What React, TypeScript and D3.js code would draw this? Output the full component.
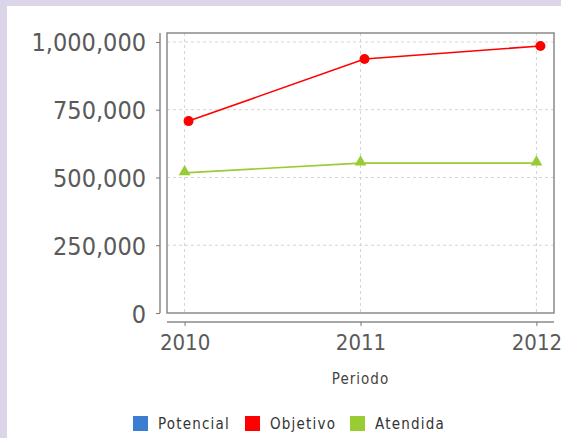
import React, { useEffect, useRef } from 'react';
import * as d3 from 'd3';

const W = 561;
const H = 438;
const margin = { top: 33, right: 7, bottom: 125, left: 167 };
const width = W - margin.left - margin.right;
const height = H - margin.top - margin.bottom;

const periods = ['2010', '2011', '2012'];
const seriesNames = ['Potencial', 'Objetivo', 'Atendida'];
const seriesColors = ['#3b7dd0', '#ff0000', '#99cc33'];
const potencial: (number | null)[] = [null, null, null];
const objetivo = [708000, 937000, 985000];
const atendida = [517000, 553000, 553000];
const yTicks = [0, 250000, 500000, 750000, 1000000];

const font = '"DejaVu Sans Condensed", "DejaVu Sans", sans-serif';

export default function App() {
    const ref = useRef<SVGSVGElement>(null);

    useEffect(() => {
        const root = d3.select(ref.current);
        root.selectAll('*').remove();

        // page background + white panel
        root.append('rect').attr('width', W).attr('height', H).attr('fill', '#dcd4e8');
        root.append('rect').attr('x', 7).attr('y', 6).attr('width', W - 7).attr('height', H - 6).attr('fill', '#ffffff');

        const svg = root.append('g').attr('transform', `translate(${margin.left},${margin.top})`);

        const x = d3.scalePoint<string>().domain(periods).range([0, width]).padding(0.1);
        const y = d3.scaleLinear().domain([0, 1033000]).range([height, 0]);

        // grid
        svg.append('g')
            .selectAll('line')
            .data(yTicks.filter(t => t > 0))
            .enter()
            .append('line')
            .attr('x1', 0).attr('x2', width)
            .attr('y1', d => y(d)).attr('y2', d => y(d))
            .attr('stroke', '#d4d4d4').attr('stroke-dasharray', '3,3');

        svg.append('g')
            .selectAll('line')
            .data(periods)
            .enter()
            .append('line')
            .attr('x1', d => x(d)!).attr('x2', d => x(d)!)
            .attr('y1', 0).attr('y2', height)
            .attr('stroke', '#d4d4d4').attr('stroke-dasharray', '3,3');

        // plot border
        svg.append('rect')
            .attr('x', 0).attr('y', 0).attr('width', width).attr('height', height)
            .attr('fill', 'none').attr('stroke', '#8a8a8a').attr('stroke-width', 1.5);

        // y axis
        const yAxis = svg.append('g')
            .attr('transform', 'translate(-7,0)')
            .call(d3.axisLeft(y).tickValues(yTicks).tickSize(4).tickPadding(10).tickFormat(d3.format(',')));
        yAxis.select('.domain').attr('stroke', '#8a8a8a').attr('stroke-width', 1.5).attr('d', `M0,0V${height}`);
        yAxis.selectAll('.tick line').attr('stroke', '#777');
        yAxis.selectAll('text')
            .attr('fill', '#5a5a5a')
            .style('font-family', font)
            .style('font-size', '25px')
            .attr('dy', '0.36em');

        // x axis
        const xAxis = svg.append('g')
            .attr('transform', `translate(0,${height + 9})`)
            .call(d3.axisBottom(x).tickSize(4).tickPadding(8));
        xAxis.select('.domain').attr('stroke', '#8a8a8a').attr('stroke-width', 1.5).attr('d', `M0,0H${width}`);
        xAxis.selectAll('.tick line').attr('stroke', '#777');
        xAxis.selectAll('text')
            .attr('fill', '#5a5a5a')
            .style('font-family', font)
            .style('font-size', '22px');

        svg.append('text')
            .attr('x', width / 2).attr('y', height + 71)
            .attr('text-anchor', 'middle')
            .attr('fill', '#444')
            .style('font-family', font)
            .style('font-size', '15px')
            .style('letter-spacing', '1px')
            .text('Periodo');

        // lines
        const line = d3.line<number | null>()
            .defined(d => d != null)
            .x((_, i) => x(periods[i])!)
            .y(d => y(d as number));

        const series = [potencial, objetivo, atendida];
        const shift = [0, 4, 0];

        series.forEach((vals, s) => {
            const g = svg.append('g').attr('transform', `translate(${shift[s]},0)`);
            g.append('path')
                .attr('d', line(vals))
                .attr('fill', 'none')
                .attr('stroke', seriesColors[s])
                .attr('stroke-width', 1.6);
            const pts = periods.map((p, i) => ({ p, v: vals[i] })).filter(d => d.v != null);
            if (s === 1) {
                g.selectAll('circle')
                    .data(pts)
                    .enter()
                    .append('circle')
                    .attr('cx', d => x(d.p)!)
                    .attr('cy', d => y(d.v as number))
                    .attr('r', 5)
                    .attr('fill', seriesColors[s]);
            } else {
                g.selectAll('path.m')
                    .data(pts)
                    .enter()
                    .append('path')
                    .attr('class', 'm')
                    .attr('d', d3.symbol().type(d3.symbolTriangle).size(60)())
                    .attr('transform', d => `translate(${x(d.p)},${y(d.v as number) - 1})`)
                    .attr('fill', seriesColors[s]);
            }
        });

        // legend
        const legendX = [133, 245, 350];
        const legend = root.append('g');
        seriesNames.forEach((name, i) => {
            legend.append('rect')
                .attr('x', legendX[i]).attr('y', 416)
                .attr('width', 15).attr('height', 15)
                .attr('fill', seriesColors[i]);
            legend.append('text')
                .attr('x', legendX[i] + 25).attr('y', 429)
                .attr('fill', '#333')
                .style('font-family', font)
                .style('font-size', '15px')
                .style('letter-spacing', '1.2px')
                .text(name);
        });
    }, []);

    return (
        <svg ref={ref} width={W} height={H} style={{ position: 'absolute', left: 0, top: 0 }} />
    );
}
